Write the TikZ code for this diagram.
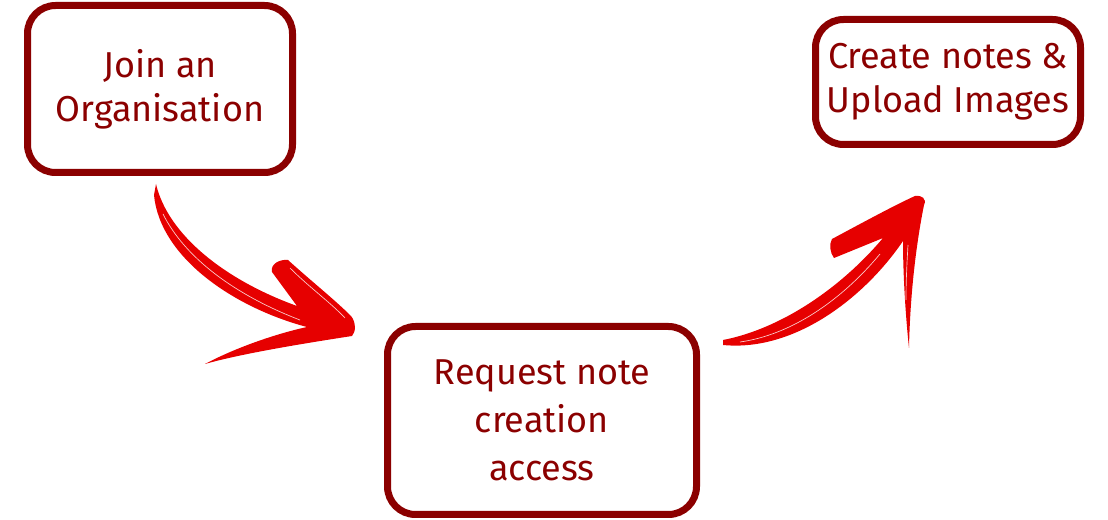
\documentclass[tikz,border=0pt]{standalone}
\usepackage{fontspec}
\setmainfont{Fira Sans}
\definecolor{boxred}{HTML}{8B0000}
\definecolor{brushred}{HTML}{E60000}

\tikzset{
  stepbox/.style={draw=boxred, line width=5.25pt, rounded corners=21pt,
    text=boxred, align=center, inner sep=0pt,
    font=\fontsize{27}{33}\selectfont},
  brush/.style={fill=brushred, draw=none},
  streak/.style={draw=white, line width=0.5pt, opacity=0.8}
}

\begin{document}
\begin{tikzpicture}[x=0.75pt,y=-0.75pt]
    \useasboundingbox (0,0) rectangle (1108,520);

    % the three steps
    \node[stepbox, minimum width=198.75pt, minimum height=125.25pt] (join) at (160,89) {Join an\\Organisation};
    \node[stepbox, minimum width=231.75pt, minimum height=141pt, font=\fontsize{27}{36}\selectfont] (request) at (542,420.5) {Request note\\creation\\access};
    \node[stepbox, minimum width=198.75pt, minimum height=93.75pt] (create) at (948,82) {Create notes \&\\Upload Images};

    % brush arrow: join -> request
    \fill[brush] (156,184) .. controls (168,235) and (225,280) .. (297,306)
      -- (272,272) .. controls (270,264) and (280,259) .. (288,260)
      .. controls (310,280) and (335,300) .. (351,316)
      .. controls (356,322) and (356,332) .. (352,336)
      .. controls (300,344) and (240,354) .. (205,364)
      .. controls (235,348) and (275,334) .. (307,327)
      .. controls (235,308) and (160,258) .. (154,195) -- cycle;
    \draw[streak] (163,214) .. controls (185,258) and (235,295) .. (300,320);% brush texture
    \draw[streak] (290,268) .. controls (310,288) and (330,302) .. (345,318);

    % brush arrow: request -> create
    \fill[brush] (723,340) .. controls (780,329) and (840,289) .. (883,238)
      -- (834,258) .. controls (830,253) and (829,244) .. (832,239)
      .. controls (860,224) and (895,205) .. (915,196)
      .. controls (922,195) and (927,199) .. (924,205)
      .. controls (915,250) and (910,300) .. (909,348)
      .. controls (905,310) and (903,270) .. (903,241)
      .. controls (865,297) and (795,352) .. (723,345) -- cycle;
    \draw[streak] (740,342) .. controls (790,335) and (840,302) .. (880,254);% brush texture
    \draw[streak] (906,300) .. controls (906,280) and (907,262) .. (908,245);

\end{tikzpicture}
\end{document}
